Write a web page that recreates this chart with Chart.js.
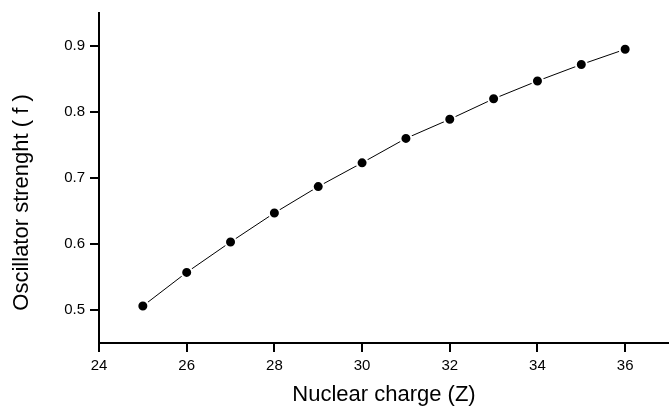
<!DOCTYPE html>
<html>
<head>
<meta charset="utf-8">
<script src="https://cdn.jsdelivr.net/npm/chart.js@4.4.0/dist/chart.umd.min.js"></script>
<style>
  html, body { margin: 0; padding: 0; background: #fff; }
  #wrap { width: 669px; height: 407px; }
</style>
</head>
<body>
<div id="wrap"><canvas id="myChart" width="669" height="407"></canvas></div>
<script>
// Data
const nuclearCharge = [25, 26, 27, 28, 29, 30, 31, 32, 33, 34, 35, 36];
const oscStrength = [0.506, 0.557, 0.603, 0.647, 0.687, 0.723, 0.760, 0.789, 0.820, 0.847, 0.872, 0.895];

// Axis ranges and tick steps
const xRange = [24, 37];
const yRange = [0.45, 0.95];
const xMajorStep = 2;
const yMajorStep = 0.1;

const xTitle = "Nuclear charge (Z)";
// trailing spaces push the rotated title down a bit, as in the original
const yTitle = "Oscillator strenght ( f )" + "        ";

function isMajor(value, step) {
    const r = value / step;
    return Math.abs(r - Math.round(r)) < 1e-6;
}

// Shorter minor tick marks, drawn where the scale puts its unlabeled ticks
const minorTicks = {
    id: 'minorTicks',
    afterDraw(chart) {
        const ctx = chart.ctx;
        const xs = chart.scales.x;
        const ys = chart.scales.y;
        ctx.save();
        ctx.strokeStyle = '#000';
        ctx.lineWidth = 2;
        ctx.beginPath();
        xs.ticks.forEach(t => {
            if (isMajor(t.value, xMajorStep)) return;
            const px = Math.round(xs.getPixelForValue(t.value));
            ctx.moveTo(px, xs.top);
            ctx.lineTo(px, xs.top + 5);
        });
        ys.ticks.forEach(t => {
            if (isMajor(t.value, yMajorStep)) return;
            const py = Math.round(ys.getPixelForValue(t.value));
            ctx.moveTo(ys.right, py);
            ctx.lineTo(ys.right - 5, py);
        });
        ctx.stroke();
        ctx.restore();
    }
};

const points = nuclearCharge.map((z, i) => ({ x: z, y: oscStrength[i] }));

const ctx = document.getElementById('myChart').getContext('2d');
const myChart = new Chart(ctx, {
    type: 'line',
    data: {
        datasets: [{
            data: points,
            borderColor: '#000',
            borderWidth: 1,
            tension: 0,
            fill: false,
            pointRadius: 5.5,
            pointBackgroundColor: '#000',
            pointBorderColor: '#fff',
            pointBorderWidth: 2,
            clip: false
        }]
    },
    options: {
        responsive: false,
        animation: false,
        events: [],
        layout: { autoPadding: false, padding: { top: 13, right: 0, left: 0, bottom: 0 } },
        plugins: {
            legend: { display: false },
            tooltip: { enabled: false }
        },
        scales: {
            x: {
                type: 'linear',
                min: xRange[0],
                max: xRange[1],
                border: { display: true, color: '#000', width: 2 },
                grid: {
                    drawOnChartArea: false,
                    drawTicks: true,
                    tickLength: 9,
                    color: '#000',
                    lineWidth: 2
                },
                ticks: {
                    stepSize: 1,
                    autoSkip: false,
                    maxRotation: 0,
                    padding: 5,
                    color: '#000',
                    font: { family: "'Liberation Sans', Arial, sans-serif", size: 15 },
                    callback: v => isMajor(v, xMajorStep) ? String(v) : null
                },
                title: {
                    display: true,
                    text: xTitle,
                    color: '#000',
                    padding: { top: 0, bottom: 1 },
                    font: { family: "'Liberation Sans', Arial, sans-serif", size: 22, lineHeight: 1 }
                },
                afterFit: scale => {
                    scale.height = 64;
                    scale.paddingLeft = 0;
                    scale.paddingRight = 0;
                }
            },
            y: {
                type: 'linear',
                min: yRange[0],
                max: yRange[1],
                border: { display: true, color: '#000', width: 2 },
                grid: {
                    drawOnChartArea: false,
                    drawTicks: true,
                    tickLength: 9,
                    color: '#000',
                    lineWidth: 2
                },
                ticks: {
                    stepSize: 0.05,
                    autoSkip: false,
                    padding: 5,
                    color: '#000',
                    font: { family: "'Liberation Sans', Arial, sans-serif", size: 15 },
                    callback: v => isMajor(v, yMajorStep) ? v.toFixed(1) : null
                },
                title: {
                    display: true,
                    text: yTitle,
                    color: '#000',
                    padding: { top: 11, bottom: 0 },
                    font: { family: "'Liberation Sans', Arial, sans-serif", size: 22, lineHeight: 1 }
                },
                afterFit: scale => {
                    scale.width = 99;
                    scale.paddingTop = 0;
                    scale.paddingBottom = 0;
                }
            }
        }
    },
    plugins: [minorTicks]
});
</script>
</body>
</html>
